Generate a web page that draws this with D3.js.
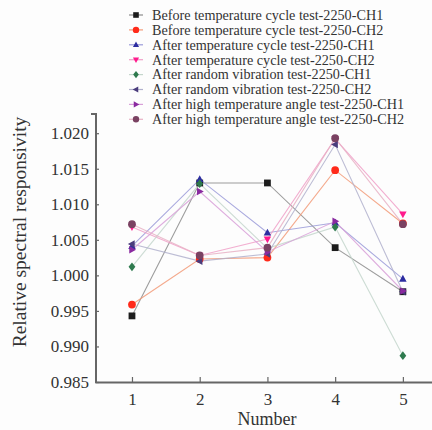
<!DOCTYPE html>
<html>
<head>
<meta charset="utf-8">
<script src="https://cdn.jsdelivr.net/npm/d3@7"></script>
<style>
  html, body { margin: 0; padding: 0; background: #fdfdfd; }
  svg { display: block; }
  text { font-family: "Liberation Serif", "Times New Roman", serif; fill: #333; }
</style>
</head>
<body>
<svg id="chart" width="432" height="430"></svg>
<script>
const xValues = [1, 2, 3, 4, 5];
const seriesNames = [
  "Before temperature cycle test-2250-CH1",
  "Before temperature cycle test-2250-CH2",
  "After temperature cycle test-2250-CH1",
  "After temperature cycle test-2250-CH2",
  "After random vibration test-2250-CH1",
  "After random vibration test-2250-CH2",
  "After high temperature angle test-2250-CH1",
  "After high temperature angle test-2250-CH2"
];
const beforeCH1 = [0.9943, 1.0130, 1.0130, 1.0039, 0.9977];
const beforeCH2 = [0.9959, 1.0023, 1.0025, 1.0148, 1.0073];
const afterTempCH1 = [1.0041, 1.0135, 1.0060, 1.0074, 0.9995];
const afterTempCH2 = [1.0068, 1.0028, 1.0051, 1.0192, 1.0086];
const vibCH1 = [1.0012, 1.0129, 1.0038, 1.0068, 0.9887];
const vibCH2 = [1.0044, 1.0020, 1.0030, 1.0184, 0.9977];
const highCH1 = [1.0036, 1.0118, 1.0033, 1.0076, 0.9978];
const highCH2 = [1.0072, 1.0028, 1.0039, 1.0193, 1.0072];
const seriesValues = [beforeCH1, beforeCH2, afterTempCH1, afterTempCH2, vibCH1, vibCH2, highCH1, highCH2];
const yTickValues = [0.985, 0.990, 0.995, 1.000, 1.005, 1.010, 1.015, 1.020];

const markerColors = ["#1c1c1c", "#ff2a1a", "#2c2ca0", "#ff1a8c", "#2e7a4e", "#4a3c7c", "#8a2aa0", "#7a4262"];
const lineColors = ["#8c8c8c", "#f29a78", "#9a9ad8", "#f0a0c8", "#c4d6cc", "#b0b0cc", "#d8a0d8", "#e8b0c4"];
const shapes = ["square", "circle", "up", "down", "diamond", "left", "right", "circle"];

const svg = d3.select("#chart");
const W = 432, H = 430;
svg.append("rect").attr("width", W).attr("height", H).attr("fill", "#fdfdfd");

const x = d3.scaleLinear().domain([0.454, 5.43]).range([95, 432]);
const y = d3.scaleLinear().domain([0.985, 1.0227]).range([382, 114]);

function shapePath(s, r) {
  switch (s) {
    case "square": return `M${-r},${-r}H${r}V${r}H${-r}Z`;
    case "circle": return d3.symbol(d3.symbolCircle, Math.PI * r * r * 1.3)();
    case "up": return `M0,${-r * 1.2}L${r * 1.1},${r * 0.8}L${-r * 1.1},${r * 0.8}Z`;
    case "down": return `M0,${r * 1.2}L${r * 1.1},${-r * 0.8}L${-r * 1.1},${-r * 0.8}Z`;
    case "left": return `M${-r * 1.2},0L${r * 0.8},${-r * 1.1}L${r * 0.8},${r * 1.1}Z`;
    case "right": return `M${r * 1.2},0L${-r * 0.8},${-r * 1.1}L${-r * 0.8},${r * 1.1}Z`;
    case "diamond": return `M0,${-r * 1.3}L${r},0L0,${r * 1.3}L${-r},0Z`;
  }
}

// axes
const xAxis = d3.axisBottom(x).tickValues(xValues).tickFormat(d3.format("d")).tickSize(-5).tickSizeOuter(0).tickPadding(11);
const gx = svg.append("g").attr("transform", "translate(0,382)").call(xAxis);
const yAxis = d3.axisLeft(y).tickValues(yTickValues).tickFormat(d3.format(".3f")).tickSize(-4).tickPadding(6);
const gy = svg.append("g").attr("transform", "translate(95,0)").call(yAxis);
[gx, gy].forEach(g => {
  g.select(".domain").attr("stroke", "#666").attr("stroke-width", 2);
  g.selectAll(".tick line").attr("stroke", "#666").attr("stroke-width", 1.2);
  g.selectAll(".tick text").attr("font-family", "Liberation Serif, serif").attr("font-size", 17).attr("fill", "#333");
});
// top outer cap of y axis
gy.select(".domain").attr("d", `M-4,${y.range()[1]}H1V${y.range()[0]}`);

svg.append("text").attr("x", 267).attr("y", 425).attr("text-anchor", "middle")
  .attr("font-size", 18).text("Number");
svg.append("text").attr("transform", "translate(26,232) rotate(-90)").attr("text-anchor", "middle")
  .attr("font-size", 19.5).text("Relative spectral responsivity");

// lines
const line = d3.line().x((d, i) => x(xValues[i])).y(d => y(d));
seriesValues.forEach((vals, k) => {
  svg.append("path").attr("d", line(vals)).attr("fill", "none")
    .attr("stroke", lineColors[k]).attr("stroke-width", 1.1).attr("opacity", 0.85);
});
// markers
seriesValues.forEach((vals, k) => {
  svg.append("g").selectAll("path").data(vals).join("path")
    .attr("transform", (d, i) => `translate(${x(xValues[i])},${y(d)})`)
    .attr("d", shapePath(shapes[k], 3.4))
    .attr("fill", markerColors[k]);
});

// legend
const leg = svg.append("g");
seriesNames.forEach((name, k) => {
  const cy = 15 + k * 14.9;
  leg.append("line").attr("x1", 129).attr("x2", 143).attr("y1", cy).attr("y2", cy)
    .attr("stroke", lineColors[k]).attr("stroke-width", 1.2);
  leg.append("path").attr("transform", `translate(136,${cy})`).attr("d", shapePath(shapes[k], 2.8))
    .attr("fill", markerColors[k]);
  leg.append("text").attr("x", 152).attr("y", cy + 4.8).attr("font-size", 14.2).text(name);
});
</script>
</body>
</html>
